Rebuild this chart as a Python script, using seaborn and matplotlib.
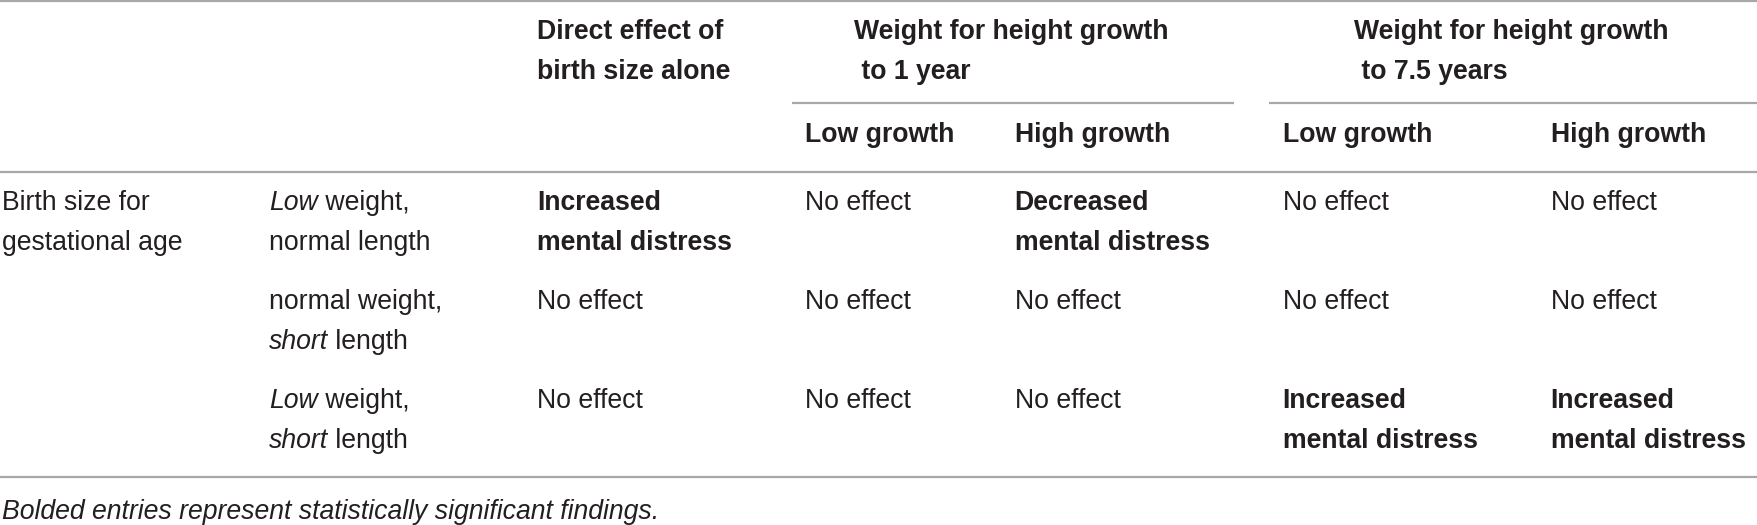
import matplotlib
matplotlib.use("Agg")
import matplotlib.pyplot as plt
import seaborn as sns

sns.set_theme(style="white")
plt.rcParams["font.family"] = ["Liberation Sans", "DejaVu Sans"]

# ---- table content ----
col_header_top = [["Direct effect of", "birth size alone"],
                  ["Weight for height growth", " to 1 year"],
                  ["Weight for height growth", " to 7.5 years"]]
sub_headers = ["Low growth", "High growth", "Low growth", "High growth"]
row_group = ["Birth size for", "gestational age"]
# each row label: list of lines, each line a list of (text, italic)
row_labels = [
    [[("Low", True), (" weight,", False)], [("normal length", False)]],
    [[("normal weight,", False)], [("short", True), (" length", False)]],
    [[("Low", True), (" weight,", False)], [("short", True), (" length", False)]],
]
cells = [
    [["Increased", "mental distress"], ["No effect"], ["Decreased", "mental distress"], ["No effect"], ["No effect"]],
    [["No effect"], ["No effect"], ["No effect"], ["No effect"], ["No effect"]],
    [["No effect"], ["No effect"], ["No effect"], ["Increased", "mental distress"], ["Increased", "mental distress"]],
]
significant = [
    [True, False, True, False, False],
    [False, False, False, False, False],
    [False, False, False, True, True],
]
footnote = "Bolded entries represent statistically significant findings."

# ---- layout (in a 1568 x 468 canvas) ----
W, H = 1568, 468
col_x = [2, 240, 479, 718, 905, 1144, 1383]
header_x = [479, 762, 1208]
row_y = [181, 269, 357.5]
line_gap = 35.5
fs = 19.2
txt_color = "#231f20"
rule_color = "#a8a8a8"

fig = plt.figure(figsize=(17.58, 5.25), dpi=100)
ax = fig.add_axes([0, 0, 1, 1])
ax.set_xlim(0, W)
ax.set_ylim(H, 0)
ax.axis("off")

# rules
ax.hlines([1.2, 153, 425.5], 0, W, color=rule_color, lw=1.6)
ax.hlines([91.5, 91.5], [706, 1132], [1101, W], color=rule_color, lw=1.6)

def put_lines(x, y0, lines, weight="normal", style="normal"):
    for i, s in enumerate(lines):
        ax.text(x, y0 + i * line_gap, s, fontsize=fs, fontweight=weight,
                fontstyle=style, color=txt_color, va="center", ha="left")

# header
for x, lines in zip(header_x, col_header_top):
    put_lines(x, 28.5, lines, weight="bold")
for x, s in zip(col_x[3:], sub_headers):
    put_lines(x, 120, [s], weight="bold")

# group label
put_lines(col_x[0], row_y[0], row_group)

# row labels with mixed italics
for r, lines in enumerate(row_labels):
    for li, pieces in enumerate(lines):
        y = row_y[r] + li * line_gap
        prev = None
        for s, it in pieces:
            style = "italic" if it else "normal"
            if prev is None:
                prev = ax.text(col_x[1], y, s, fontsize=fs, fontstyle=style,
                               color=txt_color, va="center", ha="left")
            else:
                prev = ax.annotate(s, xy=(1, 0), xycoords=prev, fontsize=fs,
                                   fontstyle=style, color=txt_color,
                                   va="bottom", ha="left")

# cells
for r, row in enumerate(cells):
    for c, lines in enumerate(row):
        put_lines(col_x[c + 2], row_y[r], lines,
                  weight="bold" if significant[r][c] else "normal")

# footnote
put_lines(col_x[0], 456, [footnote], style="italic")

fig.savefig("out.png", dpi=100, facecolor="white")
